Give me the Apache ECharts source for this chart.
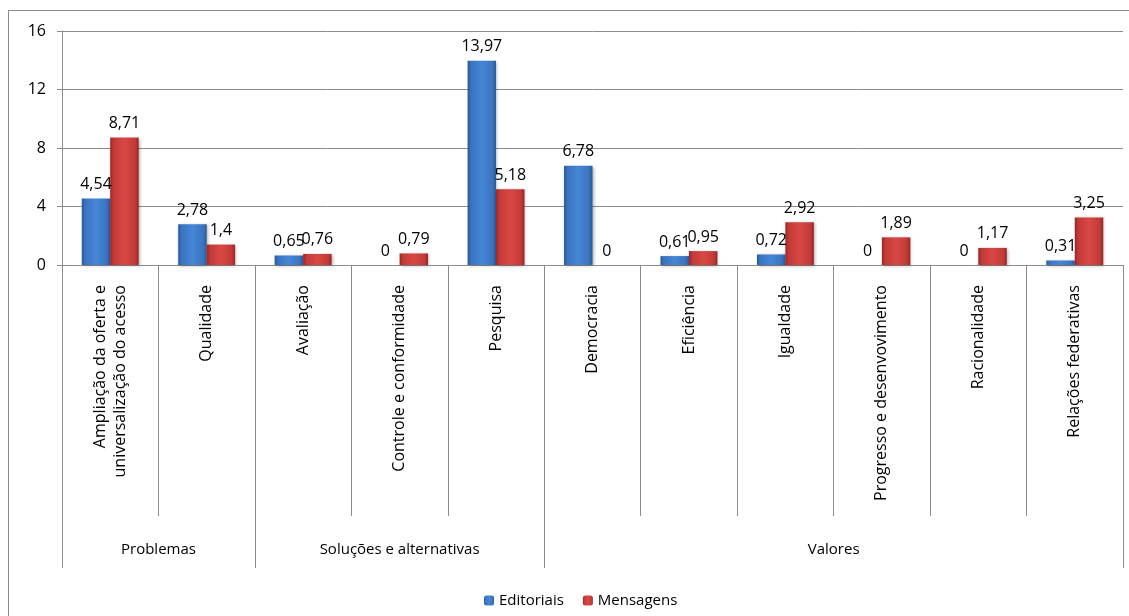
<!DOCTYPE html>
<html>
<head>
<meta charset="utf-8">
<title>Editoriais e Mensagens</title>
<script src="https://cdn.jsdelivr.net/npm/echarts@6/dist/echarts.min.js"></script>
<style>
  html, body { margin: 0; padding: 0; background: #fff; overflow: hidden; }
  #chart { position: absolute; left: 0; top: 0; width: 1129px; height: 616px; }
  #frame { position: absolute; left: 8px; top: 10px; width: 1300px; height: 800px;
           border-left: 1px solid #8c8c8c; border-top: 1px solid #8c8c8c; pointer-events: none; }
</style>
</head>
<body>
<div id="chart"></div>
<div id="frame"></div>
<script>
// Subcategories (lower axis level)
const categories = [
  'Ampliação da oferta e\nuniversalização do acesso',
  'Qualidade',
  'Avaliação',
  'Controle e conformidade',
  'Pesquisa',
  'Democracia',
  'Eficiência',
  'Igualdade',
  'Progresso e desenvovimento',
  'Racionalidade',
  'Relações federativas'
];

// Groups (upper axis level) and how many subcategories each spans
const groupNames = ['Problemas', 'Soluções e alternativas', 'Valores'];
const groupSizes = [2, 3, 6];

const seriesNames = ['Editoriais', 'Mensagens'];
const editoriais = [4.54, 2.78, 0.65, 0, 13.97, 6.78, 0.61, 0.72, 0, 0, 0.31];
const mensagens  = [8.71, 1.4, 0.76, 0.79, 5.18, 0, 0.95, 2.92, 1.89, 1.17, 3.25];

const yTicks = [0, 4, 8, 12, 16];

// Group boundaries and centres in category units
const groupBounds = [0];
groupSizes.forEach(s => groupBounds.push(groupBounds[groupBounds.length - 1] + s));
const groupMids = groupSizes.map((s, i) => groupBounds[i] + s / 2);

const FONT = '"Open Sans", "Noto Sans", sans-serif';
const GRID_COLOR = '#8c8c8c';

function barFill(dark, mid, light) {
  return new echarts.graphic.LinearGradient(0, 0, 1, 0, [
    { offset: 0, color: dark },
    { offset: 0.12, color: mid },
    { offset: 0.5, color: light },
    { offset: 0.88, color: mid },
    { offset: 1, color: dark }
  ]);
}

const blueFill = barFill('#2a5894', '#3a74c0', '#4486d6');
const redFill  = barFill('#962525', '#c23a38', '#d84844');

const fmt = v => String(v).replace('.', ',');

const chart = echarts.init(document.getElementById('chart'), null, { renderer: 'canvas' });

const labelStyle = {
  show: true,
  position: 'top',
  distance: 6,
  fontFamily: FONT,
  fontSize: 16,
  color: '#000',
  formatter: p => fmt(p.value)
};

chart.setOption({
  animation: false,
  backgroundColor: '#fff',
  textStyle: { fontFamily: FONT },
  grid: { left: 62, right: 6, top: 31, bottom: 351, containLabel: false },
  legend: {
    data: seriesNames,
    left: 479,
    top: 588,
    itemWidth: 10,
    itemHeight: 10,
    itemGap: 19,
    textStyle: { fontFamily: FONT, fontSize: 15, color: '#000' }
  },
  xAxis: [
    {
      type: 'category',
      data: categories,
      axisLine: { show: true, lineStyle: { color: GRID_COLOR, width: 1 } },
      axisTick: { show: true, interval: 0, length: 251, alignWithLabel: false,
                  lineStyle: { color: GRID_COLOR, width: 1 } },
      axisLabel: { interval: 0, rotate: 90, margin: 20, fontFamily: FONT,
                   fontSize: 16, color: '#000', lineHeight: 20 },
      splitLine: { show: false }
    },
    {
      type: 'value',
      position: 'bottom',
      offset: 251,
      min: 0,
      max: categories.length,
      axisLine: { show: false },
      axisTick: { show: true, customValues: groupBounds, length: 52,
                  lineStyle: { color: GRID_COLOR, width: 1 } },
      axisLabel: {
        customValues: groupMids,
        margin: 26,
        fontFamily: FONT,
        fontSize: 15,
        color: '#000',
        formatter: v => {
          const i = groupMids.indexOf(v);
          return i >= 0 ? groupNames[i] : '';
        }
      },
      splitLine: { show: false }
    }
  ],
  yAxis: {
    type: 'value',
    min: yTicks[0],
    max: yTicks[yTicks.length - 1],
    interval: 4,
    axisLine: { show: true, lineStyle: { color: GRID_COLOR, width: 1 } },
    axisTick: { show: true, length: 5, lineStyle: { color: GRID_COLOR } },
    axisLabel: { margin: 16, fontFamily: FONT, fontSize: 16, color: '#000' },
    splitLine: { show: true, lineStyle: { color: GRID_COLOR, width: 1 } }
  },
  series: [
    {
      name: seriesNames[0],
      type: 'bar',
      xAxisIndex: 0,
      data: editoriais,
      barGap: '0%',
      barCategoryGap: '41%',
      itemStyle: { color: blueFill, shadowColor: 'rgba(0,0,0,0.3)', shadowBlur: 3, shadowOffsetX: 1, shadowOffsetY: 1 },
      label: labelStyle
    },
    {
      name: seriesNames[1],
      type: 'bar',
      xAxisIndex: 0,
      data: mensagens,
      barGap: '0%',
      barCategoryGap: '41%',
      itemStyle: { color: redFill, shadowColor: 'rgba(0,0,0,0.3)', shadowBlur: 3, shadowOffsetX: 1, shadowOffsetY: 1 },
      label: labelStyle
    }
  ]
});
</script>
</body>
</html>
